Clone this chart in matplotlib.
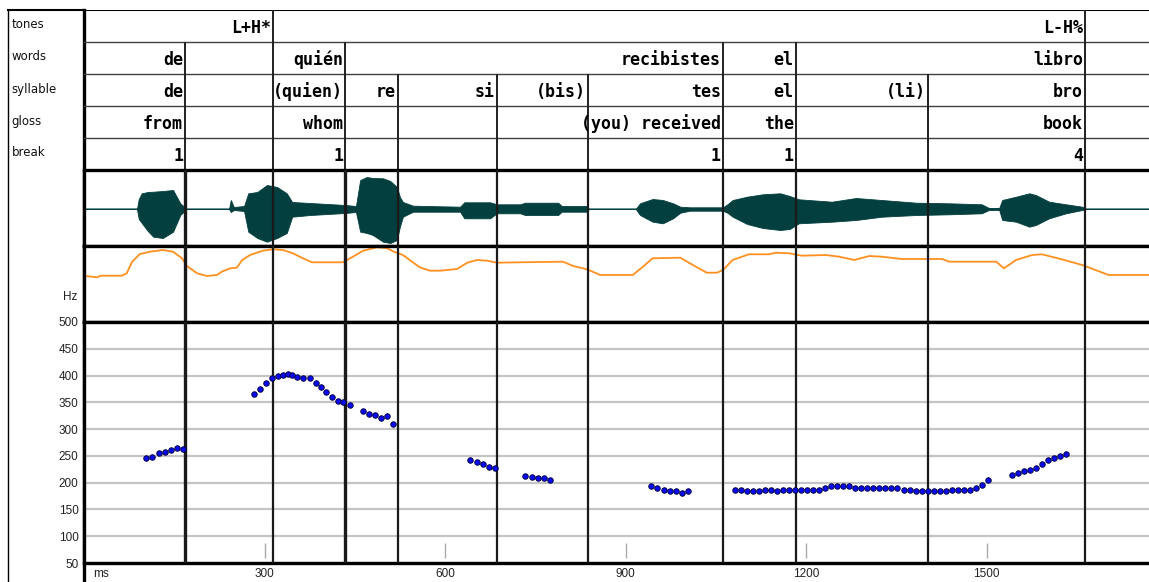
import matplotlib
matplotlib.use("Agg")
import matplotlib.pyplot as plt

# Annotationsebenen (Zeiten in ms = rechte Grenze des Intervalls)
tier_names = ["tones", "words", "syllable", "gloss", "break"]

tones_ends = [314, 1664]
tones_labels = ["L+H*", "L-H%"]

words_ends = [168, 314, 434, 1062, 1183, 1664]
words_labels = ["de", "", "quién", "recibistes", "el", "libro"]

syl_ends = [168, 314, 434, 522, 686, 838, 1062, 1183, 1403, 1664]
syl_labels = ["de", "", "(quien)", "re", "si", "(bis)", "tes", "el", "(li)", "bro"]
gloss_labels = ["from", "", "whom", "", "", "", "(you) received", "the", "", "book"]
break_labels = ["1", "", "1", "", "", "", "1", "1", "", "4"]

# Grenzen in den unteren Panels (dick = Wortgrenzen mit Index)
bounds = [168, 314, 434, 522, 686, 838, 1062, 1183, 1403, 1664]
thick_bounds = [168, 434]

# Wellenform-Huellkurve (ms, oben, unten)
wave_t = [0, 88, 91, 96, 106, 115, 131, 148, 160, 168, 171, 241, 244, 249, 266, 273,
          288, 304, 321, 337, 346, 376, 434, 452, 459, 470, 480, 497, 509, 520, 525,
          530, 547, 625, 632, 675, 686, 725, 733, 788, 794, 836, 839, 917, 924, 945,
          962, 979, 991, 1007, 1062, 1070, 1078, 1102, 1128, 1157, 1173, 1188, 1243,
          1283, 1326, 1383, 1438, 1492, 1504, 1521, 1526, 1549, 1571, 1582, 1604,
          1632, 1659, 1665, 1770]
wave_up = [0, 0, 10, 15.7, 17, 17.3, 18, 19, 5.7, 1.5, 0, 0, 9, 2, 3, 15.7,
           17, 24, 22, 15.7, 7, 6, 4, 3, 29, 32, 31, 30.7, 28, 22, 12,
           7, 3.3, 2.3, 6.7, 6.7, 4.7, 4.7, 6.3, 6.3, 3, 3, 0, 0, 5.7, 10,
           9, 5.7, 2.3, 1.7, 1.7, 5, 9, 12.3, 14.7, 15.7, 13, 9.7, 7.3,
           11, 9, 6.3, 5.7, 4.7, 1, 1, 9, 12.3, 15.7, 14, 7.3,
           4.7, 2.3, 0, 0]
wave_lo = [0, 0, -10, -14, -22, -27.7, -29, -22.7, -6, -1.5, 0, 0, -3, -1, -2, -22.7,
           -29, -32.7, -29, -24, -7.7, -6, -4, -3, -22.7, -24, -26, -32.7, -34, -31, -17.7,
           -7.7, -2.7, -2.7, -9.3, -9.3, -4.3, -4.3, -6, -6, -2.7, -2.7, 0, 0, -6, -12.7,
           -14.3, -9.3, -3.7, -1.7, -1.7, -4, -7.7, -15, -19, -21, -20, -14.3, -12.7,
           -11, -7.7, -6, -5.3, -4.3, -1, -1, -11, -12.7, -17.7, -16, -9.3,
           -4.3, -1, 0, 0]

# geglaettete Tonhoehenkontur (ms, Niveau)
cont_t = [0, 1, 22, 27, 63, 71, 80, 93, 110, 131, 148, 163, 171, 188, 204, 221, 229,
          243, 254, 263, 276, 297, 314, 331, 347, 364, 379, 430, 447, 464, 487, 504,
          515, 530, 558, 575, 592, 620, 637, 653, 670, 686, 725, 796, 813, 836, 858,
          912, 929, 945, 991, 1012, 1035, 1052, 1062, 1078, 1105, 1138, 1150, 1172,
          1193, 1233, 1255, 1280, 1305, 1326, 1359, 1426, 1438, 1516, 1529, 1549,
          1576, 1592, 1625, 1659, 1703, 1770]
cont_v = [0, 46, 44.7, 46.3, 46.3, 48.7, 60.3, 68, 70.3, 72, 70.3, 63.7, 56, 48.7, 46, 47, 50.3,
          53.7, 54.3, 62, 67, 71.3, 72.7, 72, 68.7, 63.7, 59.7, 59.7, 65.3, 71.3, 74.7, 73.7,
          70.3, 67, 54.7, 51.3, 51.3, 53, 59.3, 62, 61.3, 59.3, 59.7, 60.3, 56, 52.7, 47,
          47, 55.3, 63.7, 64.3, 57, 49.3, 49.3, 52, 62, 67.7, 67.7, 69.3, 68.7,
          66.3, 67, 65.3, 62, 66, 65.3, 63, 63, 60.3, 60.3, 53.7, 62,
          67, 67.7, 62.7, 57, 47, 47]

# F0-Messpunkte (ms, Hz), ein Abschnitt pro stimmhaftem Stueck
f0_t_de = [103, 113, 124, 134, 145, 155, 165]
f0_hz_de = [246, 248, 255, 258, 261, 264, 263]
f0_t_quien = [283, 293, 303, 313, 322, 331, 339, 346, 354, 364, 375, 385, 394, 403, 412, 422, 431, 442]
f0_hz_quien = [366, 375, 386, 395, 399, 401, 403, 401, 397, 395, 395, 387, 379, 369, 360, 353, 351, 345]
f0_t_re = [464, 473, 483, 493, 504, 514]
f0_hz_re = [334, 329, 327, 321, 324, 310]
f0_t_si = [642, 653, 663, 673, 683]
f0_hz_si = [242, 238, 235, 230, 227]
f0_t_bis = [733, 744, 754, 764, 774]
f0_hz_bis = [213, 210, 209, 209, 205]
f0_t_tes = [943, 953, 964, 974, 984, 994, 1003]
f0_hz_tes = [194, 190, 187, 184, 184, 181, 184]
f0_t_el = [1082, 1092, 1102, 1112, 1122, 1132, 1142, 1152, 1162, 1172, 1182, 1192, 1202, 1212,
           1222, 1232, 1242, 1252, 1262, 1272, 1282, 1292, 1302, 1312, 1322, 1332, 1342, 1352,
           1362, 1372, 1382, 1392, 1402, 1412, 1422, 1432, 1442, 1452, 1462, 1472, 1482, 1492, 1502]
f0_hz_el = [187, 187, 184, 184, 184, 187, 187, 184, 187, 187, 187, 187, 187, 187,
            187, 190, 194, 194, 194, 194, 190, 190, 190, 190, 190, 190, 190, 190,
            187, 187, 184, 184, 184, 184, 184, 184, 187, 187, 187, 187, 190, 195, 205]
f0_t_bro = [1542, 1552, 1562, 1572, 1582, 1592, 1602, 1612, 1622, 1632]
f0_hz_bro = [215, 218, 221, 224, 227, 235, 242, 246, 249, 253]

hz_ticks = [50, 100, 150, 200, 250, 300, 350, 400, 450, 500]
ms_ticks = [300, 600, 900, 1200, 1500]

W, H = 1149, 582
fig = plt.figure(figsize=(W / 100, H / 100), dpi=100, facecolor="white")


def px_axes(x0, y0, x1, y1):
    return fig.add_axes([x0 / W, 1 - y1 / H, (x1 - x0) / W, (y1 - y0) / H])


XMAX = 1770
mono = dict(family="DejaVu Sans Mono", fontweight="bold", fontsize=12)

# linke Spalte mit Ebenennamen
lab = px_axes(8, 10, 84, 582)
lab.set_xlim(0, 1)
lab.set_ylim(572, 0)
lab.set_xticks([])
lab.set_yticks([])
lab.spines["bottom"].set_visible(False)
lab.spines["left"].set_linewidth(1.0)
lab.spines["top"].set_linewidth(1.5)
lab.spines["right"].set_linewidth(2.4)
for i, name in enumerate(tier_names):
    lab.text(0.05, 15 + 32 * i, name, fontsize=8.5, family="DejaVu Sans",
             va="center", ha="left", color="#111111")

# Annotationsebenen
tier = px_axes(84, 10, 1149, 170)
tier.set_xlim(0, XMAX)
tier.set_ylim(5, 0)
tier.axis("off")
tier.axhline(0, color="black", lw=1.5)
for r in range(1, 5):
    tier.axhline(r, color="#404040", lw=1.0)

rows = [(tones_ends, tones_labels), (words_ends, words_labels), (syl_ends, syl_labels),
        (syl_ends, gloss_labels), (syl_ends, break_labels)]
for r, (ends, labels) in enumerate(rows):
    tier.vlines(ends, r, r + 1, color="#202020", lw=1.4)
    for t, s in zip(ends, labels):
        if s:
            tier.annotate(s, (t, r + 0.55), xytext=(-1.5, 0), textcoords="offset points",
                          ha="right", va="center", color="black", **mono)


def bound_lines(ax):
    for b in bounds:
        lw = 2.4 if b in thick_bounds else 1.6
        ax.axvline(b, color="#1a1a1a", lw=lw, zorder=3)


def frame(ax):
    ax.set_xlim(0, XMAX)
    ax.set_xticks([])
    ax.set_yticks([])
    ax.spines["right"].set_visible(False)
    for sp in ["top", "bottom", "left"]:
        ax.spines[sp].set_linewidth(2.4)


# Wellenform
wav = px_axes(84, 170, 1149, 246)
frame(wav)
wav.set_ylim(-37, 39)
wav.axhline(0, color="#4f8282", lw=1.2, zorder=1)
wav.fill_between(wave_t, wave_lo, wave_up, color="#033f3f", lw=0.6, zorder=2)
bound_lines(wav)

# Tonhoehenkontur
con = px_axes(84, 246, 1149, 322)
frame(con)
con.set_ylim(0, 76)
con.plot(cont_t, cont_v, color="#ff9020", lw=1.3, zorder=2)
bound_lines(con)

# F0-Panel
f0 = px_axes(84, 322, 1149, 563)
f0.set_xlim(0, XMAX)
f0.set_ylim(50, 500)
f0.spines["right"].set_visible(False)
for sp in ["top", "bottom", "left"]:
    f0.spines[sp].set_linewidth(2.4)
f0.set_yticks(hz_ticks)
f0.set_yticklabels([str(v) for v in hz_ticks])
f0.set_xticks(ms_ticks)
f0.set_xticklabels([str(v) for v in ms_ticks])
f0.tick_params(axis="both", length=0, labelsize=8.5, colors="#222222", labelfontfamily="Liberation Sans")
f0.tick_params(axis="y", pad=4)
f0.tick_params(axis="x", pad=3.5)
f0.yaxis.grid(True, color="#c4c4c4", lw=1.6)
f0.set_axisbelow(True)
f0.vlines(ms_ticks, 0.022, 0.085, transform=f0.get_xaxis_transform(), color="#aaaaaa", lw=1.0)
f0.text(15, -0.045, "ms", transform=f0.get_xaxis_transform(), fontsize=8.5,
        family="Liberation Sans", color="#222222", va="center", ha="left")
bound_lines(f0)

segments = [(f0_t_de, f0_hz_de), (f0_t_quien, f0_hz_quien), (f0_t_re, f0_hz_re),
            (f0_t_si, f0_hz_si), (f0_t_bis, f0_hz_bis), (f0_t_tes, f0_hz_tes),
            (f0_t_el, f0_hz_el), (f0_t_bro, f0_hz_bro)]
for ts, hz in segments:
    f0.plot(ts, hz, linestyle="none", marker="o", markersize=4.0,
            markerfacecolor="#0a0aee", markeredgecolor="#000033", markeredgewidth=0.6, zorder=4)

fig.text(77 / W, 1 - 297 / H, "Hz", fontsize=8.5, family="Liberation Sans",
         ha="right", va="center", color="#222222")

fig.savefig("out.png", dpi=100, facecolor="white")
